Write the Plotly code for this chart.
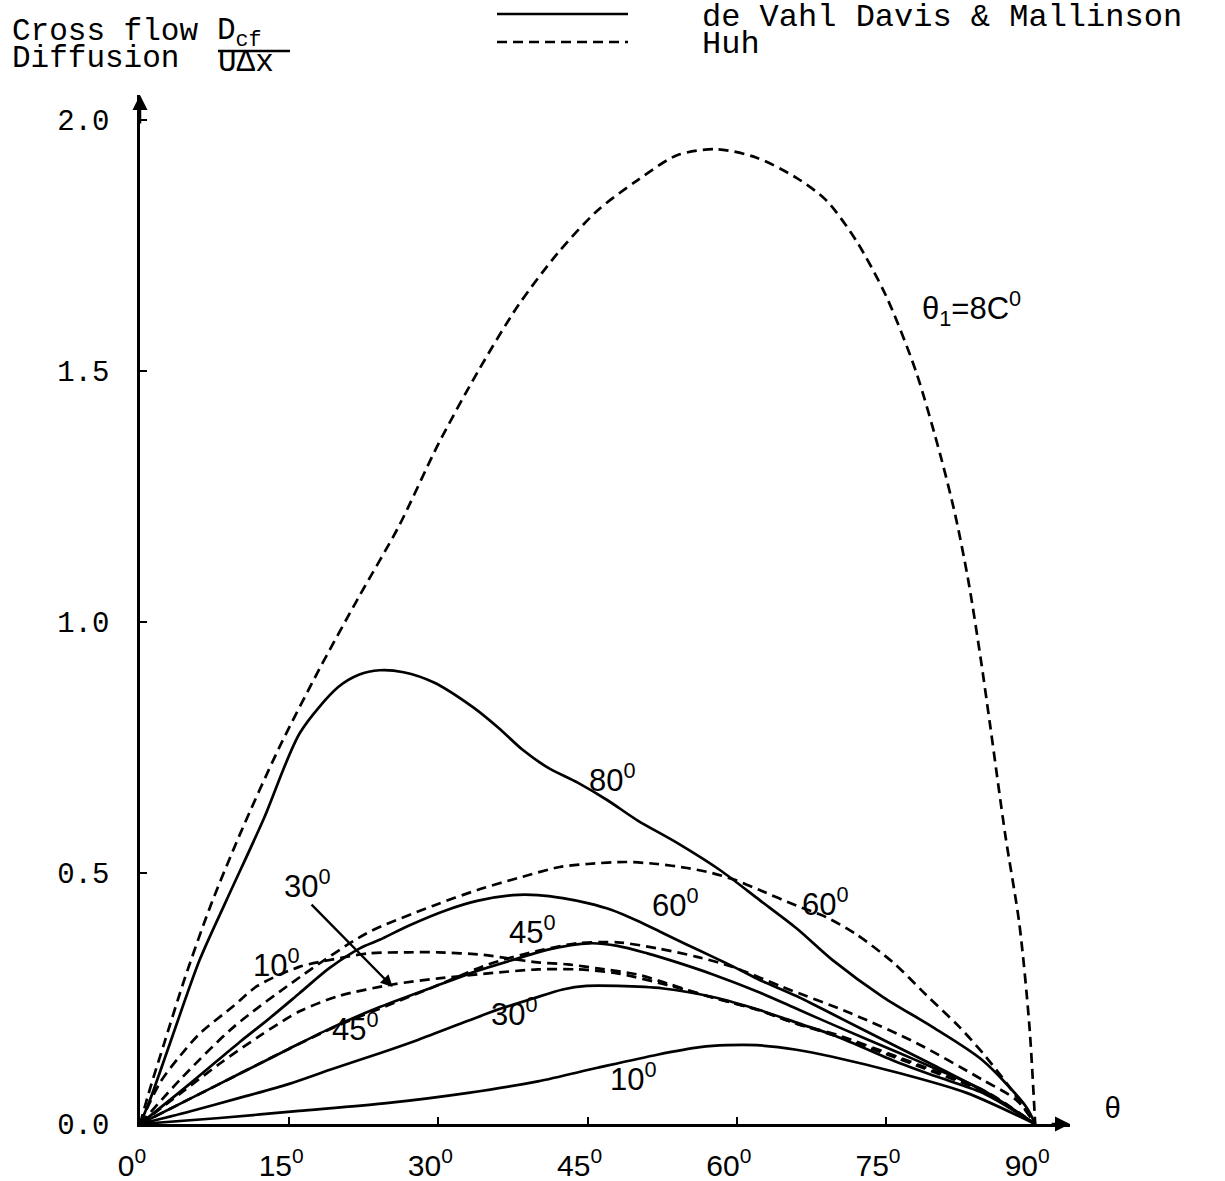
import plotly.graph_objects as go

# ---------------- data ----------------
# de Vahl Davis & Mallinson (solid)
dvdm80_x = [0, 1, 3, 6, 8.7, 12.4, 16.1, 19.9, 22, 24.1, 26.5, 29.5, 33.5, 36, 38.5, 41, 44, 47, 50, 54, 58.3, 62.3, 66, 69.6, 74.7, 79.7, 84.7, 89.1, 90]
dvdm80_y = [0, 0.048, 0.16, 0.327, 0.446, 0.606, 0.78, 0.87, 0.895, 0.904, 0.9, 0.88, 0.83, 0.79, 0.745, 0.71, 0.68, 0.645, 0.605, 0.56, 0.506, 0.446, 0.39, 0.327, 0.253, 0.193, 0.127, 0.034, 0]

dvdm60_x = [0, 5, 10, 12.8, 16, 19, 22.1, 24.1, 27, 30.8, 34, 37.5, 40, 42.5, 45, 47.5, 50, 52.6, 55, 57.6, 60, 62.3, 66, 70, 75, 80, 85, 90]
dvdm60_y = [0, 0.08, 0.163, 0.207, 0.26, 0.31, 0.35, 0.367, 0.395, 0.426, 0.445, 0.456, 0.456, 0.45, 0.44, 0.426, 0.405, 0.38, 0.357, 0.333, 0.31, 0.287, 0.255, 0.215, 0.165, 0.115, 0.063, 0]

dvdm45_x = [0, 5, 10, 15, 19.4, 24.1, 29.5, 34.2, 38, 40.9, 45.2, 48, 51, 54, 57.6, 62.3, 66.3, 70, 76.4, 80, 84.7, 90]
dvdm45_y = [0, 0.05, 0.1, 0.15, 0.193, 0.233, 0.273, 0.307, 0.33, 0.347, 0.36, 0.355, 0.34, 0.322, 0.298, 0.262, 0.227, 0.195, 0.141, 0.11, 0.068, 0]

dvdm30_x = [0, 5, 10, 15, 19.1, 24.1, 28, 32.9, 36, 39.5, 42.5, 44.9, 48, 52.6, 57.6, 62.3, 66.3, 70, 76.4, 80, 84.7, 90]
dvdm30_y = [0, 0.025, 0.052, 0.08, 0.108, 0.141, 0.168, 0.205, 0.228, 0.25, 0.268, 0.275, 0.275, 0.27, 0.253, 0.227, 0.2, 0.175, 0.121, 0.095, 0.062, 0]

dvdm10_x = [0, 8, 16, 25, 33, 40, 46, 52, 56.3, 59, 62, 66, 69.6, 76.4, 83.1, 90]
dvdm10_y = [0, 0.012, 0.026, 0.042, 0.062, 0.085, 0.112, 0.138, 0.153, 0.157, 0.157, 0.148, 0.134, 0.101, 0.062, 0]

# Huh (dashed)
huh80_x = [0, 1, 2.5, 4.5, 7, 10, 14, 18, 22, 26, 30, 34, 38, 42, 46, 50, 54, 58, 62, 66, 69, 72, 75, 78, 80.5, 82, 83.3, 84.5, 85.5, 87, 88.4, 89.4, 90]
huh80_y = [0, 0.07, 0.165, 0.29, 0.43, 0.575, 0.75, 0.905, 1.05, 1.19, 1.355, 1.5, 1.63, 1.735, 1.82, 1.88, 1.93, 1.942, 1.925, 1.885, 1.84, 1.76, 1.65, 1.5, 1.33, 1.21, 1.08, 0.93, 0.79, 0.575, 0.40, 0.2, 0]

huh60_x = [0, 4.3, 9.4, 16.1, 22.8, 29.5, 34.2, 38, 42.2, 45, 48.9, 52, 55, 57.5, 60, 62.3, 66, 69, 72, 75.7, 79, 82.4, 85, 87.4, 90]
huh60_y = [0, 0.094, 0.193, 0.293, 0.38, 0.435, 0.468, 0.49, 0.512, 0.518, 0.522, 0.518, 0.51, 0.5, 0.485, 0.466, 0.435, 0.412, 0.378, 0.322, 0.258, 0.193, 0.135, 0.074, 0]

huh45_x = [0, 5, 10, 15, 20, 25, 30, 35, 40, 44, 48, 52, 56, 59.6, 64.6, 71.4, 78.1, 84.7, 88.1, 90]
huh45_y = [0, 0.05, 0.1, 0.15, 0.197, 0.237, 0.277, 0.318, 0.345, 0.36, 0.362, 0.35, 0.333, 0.313, 0.273, 0.221, 0.161, 0.088, 0.048, 0]

huh30_x = [0, 4, 8, 12, 16.1, 20, 25.4, 30, 35, 40, 44, 48, 53, 57, 62, 66, 70, 76, 80, 85, 90]
huh30_y = [0, 0.06, 0.12, 0.175, 0.225, 0.255, 0.278, 0.29, 0.3, 0.308, 0.308, 0.3, 0.277, 0.255, 0.228, 0.2, 0.178, 0.135, 0.105, 0.065, 0]

huh10_x = [0, 2, 4, 6, 9.4, 11.8, 16, 19.4, 23, 27, 30, 34.5, 37, 40, 43, 46, 50, 53, 57, 62, 66, 70, 76, 80, 85, 90]
huh10_y = [0, 0.082, 0.135, 0.18, 0.235, 0.275, 0.313, 0.328, 0.34, 0.342, 0.342, 0.337, 0.33, 0.322, 0.318, 0.31, 0.298, 0.28, 0.255, 0.228, 0.2, 0.175, 0.132, 0.102, 0.063, 0]

x_ticks = [0, 15, 30, 45, 60, 75, 90]
x_tick_text = ["0<sup>0</sup>", "15<sup>0</sup>", "30<sup>0</sup>", "45<sup>0</sup>", "60<sup>0</sup>", "75<sup>0</sup>", "90<sup>0</sup>"]
y_ticks = [0, 0.5, 1.0, 1.5, 2.0]
y_tick_text = ["0.0", "0.5", "1.0", "1.5", "2.0"]

# curve labels: (text, x, y)
curve_labels = [
    ("θ<sub>1</sub>=8C<sup>0</sup>", 83.6, 1.625),
    ("80<sup>0</sup>", 47.5, 0.69),
    ("60<sup>0</sup>", 53.8, 0.44),
    ("60<sup>0</sup>", 68.9, 0.442),
    ("45<sup>0</sup>", 39.5, 0.386),
    ("30<sup>0</sup>", 16.8, 0.478),
    ("10<sup>0</sup>", 13.7, 0.321),
    ("45<sup>0</sup>", 21.7, 0.193),
    ("30<sup>0</sup>", 37.7, 0.223),
    ("10<sup>0</sup>", 49.6, 0.094),
]

# ---------------- figure ----------------
MONO = "Liberation Mono, Courier New, monospace"
SANS = "Liberation Sans, Arial, sans-serif"
LW = 2.7
DASH = "10px,6px"

fig = go.Figure()
solid = [(dvdm80_x, dvdm80_y), (dvdm60_x, dvdm60_y), (dvdm45_x, dvdm45_y), (dvdm30_x, dvdm30_y), (dvdm10_x, dvdm10_y)]
dashed = [(huh80_x, huh80_y), (huh60_x, huh60_y), (huh45_x, huh45_y), (huh30_x, huh30_y), (huh10_x, huh10_y)]
for xs, ys in solid:
    fig.add_trace(go.Scatter(x=xs, y=ys, mode="lines", showlegend=False, cliponaxis=False,
                             line=dict(color="black", width=LW, shape="spline", smoothing=0.8)))
for xs, ys in dashed:
    fig.add_trace(go.Scatter(x=xs, y=ys, mode="lines", showlegend=False, cliponaxis=False,
                             line=dict(color="black", width=LW, dash=DASH, shape="spline", smoothing=0.8)))

annotations = []
for txt, x, y in curve_labels:
    annotations.append(dict(x=x, y=y, xref="x", yref="y", text=txt, showarrow=False,
                            font=dict(family=SANS, size=31, color="black")))

# arrow from the 30° label to the Huh 30° curve
annotations.append(dict(x=25.4, y=0.273, ax=17.1, ay=0.44, xref="x", yref="y", axref="x", ayref="y",
                        text="", showarrow=True, arrowhead=2, arrowsize=1, arrowwidth=2.4, arrowcolor="black"))
# axis arrows
annotations.append(dict(x=93.5, y=0, ax=91.5, ay=0, xref="x", yref="y", axref="x", ayref="y",
                        text="", showarrow=True, arrowhead=2, arrowsize=1.2, arrowwidth=2.5, arrowcolor="black"))
annotations.append(dict(x=0, y=2.05, ax=0, ay=1.99, xref="x", yref="y", axref="x", ayref="y",
                        text="", showarrow=True, arrowhead=2, arrowsize=1.2, arrowwidth=2.5, arrowcolor="black"))

# header texts (paper coordinates)
def px2paper(px, py):
    return (px - 140) / 930.0, (1124 - py) / 1029.0

for txt, px, py, size in [
    ("Cross flow", 10, 32, 31),
    ("Diffusion", 10, 59, 31),
    ("D<sub>cf</sub>", 215, 33, 31),
    ("UΔx", 216, 62, 31),
    ("de Vahl Davis &amp; Mallinson", 700, 18, 32),
    ("Huh", 700, 45, 32),
]:
    xp, yp = px2paper(px, py)
    annotations.append(dict(x=xp, y=yp, xref="paper", yref="paper", text=txt, showarrow=False,
                            xanchor="left", yanchor="middle", font=dict(family=MONO, size=size, color="black")))
xp, yp = px2paper(1112, 1110)
annotations.append(dict(x=xp, y=yp, xref="paper", yref="paper", text="θ", showarrow=False,
                        xanchor="center", yanchor="middle",
                        font=dict(family=MONO, size=29, color="black")))

shapes = []
x0, y0 = px2paper(218, 51)
x1, _ = px2paper(290, 51)
shapes.append(dict(type="line", xref="paper", yref="paper", x0=x0, x1=x1, y0=y0, y1=y0,
                   line=dict(color="black", width=2.5)))
x0, y0 = px2paper(497, 14)
x1, _ = px2paper(628, 14)
shapes.append(dict(type="line", xref="paper", yref="paper", x0=x0, x1=x1, y0=y0, y1=y0,
                   line=dict(color="black", width=LW)))
x0, y0 = px2paper(497, 42)
x1, _ = px2paper(628, 42)
shapes.append(dict(type="line", xref="paper", yref="paper", x0=x0, x1=x1, y0=y0, y1=y0,
                   line=dict(color="black", width=LW, dash=DASH)))

fig.update_layout(
    width=1225, height=1181,
    margin=dict(l=140, r=155, t=95, b=57, autoexpand=False),
    paper_bgcolor="white", plot_bgcolor="white",
    annotations=annotations, shapes=shapes,
    xaxis=dict(range=[0, 93.5], showgrid=False, zeroline=False, showline=True, linecolor="black", linewidth=2.5,
               ticks="inside", ticklen=7, tickwidth=2, tickcolor="black",
               tickvals=x_ticks, ticktext=x_tick_text, ticklabelstandoff=13, ticklabelshift=-8,
               tickfont=dict(family=SANS, size=30, color="black")),
    yaxis=dict(range=[0, 2.05], showgrid=False, zeroline=False, showline=True, linecolor="black", linewidth=2.5,
               ticks="inside", ticklen=7, tickwidth=2, tickcolor="black",
               tickvals=y_ticks, ticktext=y_tick_text, ticklabelstandoff=22,
               tickfont=dict(family=MONO, size=29, color="black")),
)

# remove the default 8px page margin so the figure fills the window exactly
fig.write_html("out.html", config={"displayModeBar": False},
               post_script="document.body.style.margin='0px';")
